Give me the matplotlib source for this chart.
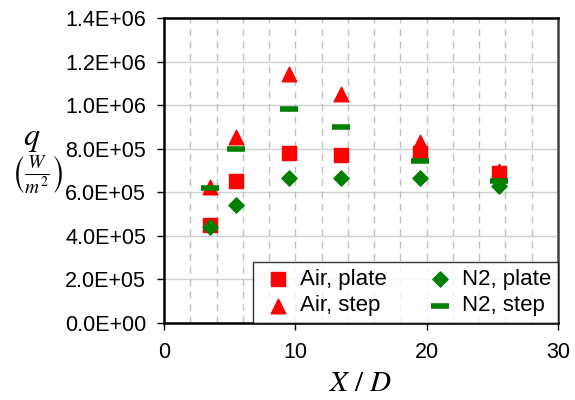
import matplotlib
matplotlib.use("Agg")
import matplotlib.pyplot as plt
import numpy as np

x_pos = [3.5, 5.5, 9.5, 13.5, 19.5, 25.5]
air_plate = [4.5e5, 6.5e5, 7.8e5, 7.7e5, 7.8e5, 6.9e5]
air_step = [6.25e5, 8.55e5, 1.145e6, 1.05e6, 8.3e5, 7.0e5]
n2_plate = [4.4e5, 5.4e5, 6.65e5, 6.65e5, 6.65e5, 6.3e5]
n2_step = [6.2e5, 8.0e5, 9.8e5, 9.0e5, 7.45e5, 6.5e5]
x_ticks = [0, 10, 20, 30]
y_ticks = [0, 2e5, 4e5, 6e5, 8e5, 1.0e6, 1.2e6, 1.4e6]
y_labels = ["0.0E+00", "2.0E+05", "4.0E+05", "6.0E+05", "8.0E+05",
            "1.0E+06", "1.2E+06", "1.4E+06"]

plt.rcParams['font.family'] = ['Liberation Sans', 'DejaVu Sans']
plt.rcParams['mathtext.fontset'] = 'stix'

fig = plt.figure(figsize=(5.75, 4.0), dpi=100)
ax = fig.add_axes([164/575, 77/400, (558-164)/575, (323-18)/400])

ax.set_xlim(0, 30)
ax.set_ylim(0, 1.4e6)

# grid
for yv in y_ticks[1:-1]:
    ax.axhline(yv, color='#d0d0d0', lw=1.0, zorder=0)
for xv in np.arange(2, 30, 2):
    ax.axvline(xv, color='#c0c0c0', lw=1.0, ls=(0, (5, 4)), zorder=0)

ax.scatter(x_pos, air_plate, marker='s', s=110, color='#ff0000', label='Air, plate', zorder=3)
ax.scatter(x_pos, air_step, marker='^', s=110, color='#ff0000', label='Air, step', zorder=3)
ax.scatter(x_pos, n2_plate, marker='D', s=60, color='#008000', label='N2, plate', zorder=4)
ax.scatter(x_pos, n2_step, marker='_', s=180, linewidths=4, color='#008000', label='N2, step', zorder=4)

ax.set_xticks(x_ticks)
ax.set_yticks(y_ticks)
ax.set_yticklabels(y_labels)
ax.tick_params(axis='both', labelsize=15.5, direction='out', length=5, width=1, color='black')
ax.tick_params(axis='x', pad=9)
ax.tick_params(axis='y', pad=8)

for s in ['left', 'bottom', 'top']:
    ax.spines[s].set_linewidth(1.8)
    ax.spines[s].set_color('black')
ax.spines['right'].set_linewidth(1.8)
ax.spines['right'].set_color('#404040')

ax.set_xlabel(r'$X\ /\ D$', fontsize=21, labelpad=4)

fig.text(0.055, 0.652, r'$q$', fontsize=23, ha='center', va='center')
fig.text(0.064, 0.56, r'$\left(\frac{W}{m^2}\right)$', fontsize=20, ha='center', va='center')

leg = ax.legend(ncol=2, loc='lower right', fontsize=16, frameon=True, fancybox=False,
                edgecolor='black', borderaxespad=0, handletextpad=0.2,
                columnspacing=1.6, labelspacing=0.25, handlelength=1.6,
                borderpad=0.3, scatterpoints=1)
leg.get_frame().set_linewidth(1.0)

fig.savefig('out.png', dpi=100)
